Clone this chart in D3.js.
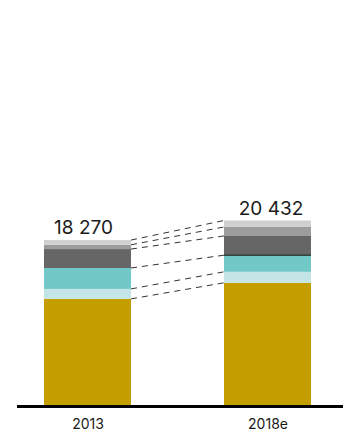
<!DOCTYPE html>
<html>
<head>
<meta charset="utf-8">
<script src="https://cdn.jsdelivr.net/npm/d3@7"></script>
<style>
  body { margin: 0; background: #fff; }
  text { font-family: Inter, Lato, sans-serif; font-weight: 400; fill: #1a1a1a; }
</style>
</head>
<body>
<script>
// values, bottom segment first
var years = ["2013", "2018e"]
var totals = [18270, 20432]
var totalLabels = ["18 270", "20 432"]
var segGold = [11776, 13552]
var segLightTeal = [1100, 1211]
var segTeal = [2311, 1838]
var segDarkGrey = [2091, 2124]
var segMidGrey = [473, 991]
var segLightGrey = [519, 716]

var colors = ["#c49e00", "#c3e5e5", "#72c8c6", "#666666", "#9c9c9c", "#d0d0d0"]

var W = 347, H = 436
var svg = d3.select("body").append("svg")
  .attr("width", W)
  .attr("height", H)

var rows = years.map(function(yr, i) {
  return {year: yr, gold: segGold[i], lteal: segLightTeal[i], teal: segTeal[i],
          dgrey: segDarkGrey[i], mgrey: segMidGrey[i], lgrey: segLightGrey[i]}
})
var keys = ["gold", "lteal", "teal", "dgrey", "mgrey", "lgrey"]
var stacked = d3.stack().keys(keys)(rows)

var x = d3.scalePoint().domain(years).range([87.5, 267.5])
var barW = 87
var y = d3.scaleLinear().domain([0, 20432]).range([405.5, 220.5])

// dashed connectors between the two bars, one per segment top
var conn = svg.append("g")
stacked.forEach(function(layer) {
  conn.append("line")
    .attr("x1", x(years[0]) + barW / 2)
    .attr("x2", x(years[1]) - barW / 2)
    .attr("y1", y(layer[0][1]))
    .attr("y2", y(layer[1][1]))
    .attr("stroke", "#333")
    .attr("stroke-width", 1)
    .attr("stroke-dasharray", "6,5")
})

// bars
svg.append("g").selectAll("g")
  .data(stacked)
  .join("g")
  .attr("fill", function(d, i) { return colors[i] })
  .selectAll("rect")
  .data(function(d) { return d })
  .join("rect")
  .attr("x", function(d) { return x(d.data.year) - barW / 2 })
  .attr("width", barW)
  .attr("y", function(d) { return y(d[1]) })
  .attr("height", function(d) { return y(d[0]) - y(d[1]) })

// thin dark edge on top of teal in 2018e bar
var tealTop = stacked[2][1][1]
svg.append("line")
  .attr("x1", x(years[1]) - barW / 2)
  .attr("x2", x(years[1]) + barW / 2)
  .attr("y1", y(tealTop))
  .attr("y2", y(tealTop))
  .attr("stroke", "#111")
  .attr("stroke-width", 1)

// total labels
svg.append("g").selectAll("text")
  .data(years)
  .join("text")
  .attr("x", function(d, i) { return x(d) + (i == 0 ? -4 : 3.5) })
  .attr("y", function(d, i) { return y(totals[i]) - 6 })
  .attr("text-anchor", "middle")
  .attr("font-size", "19px")
  .text(function(d, i) { return totalLabels[i] })

// baseline axis
var xAxis = d3.axisBottom(x).tickSize(0).tickPadding(13)
svg.append("g")
  .attr("transform", "translate(0,406.5)")
  .call(xAxis)
  .call(function(g) { g.select(".domain").remove() })
  .call(function(g) { g.selectAll("text").attr("font-size", "14px").attr("font-family", null).attr("fill", "#1a1a1a") })

svg.append("line")
  .attr("x1", 17).attr("x2", 343)
  .attr("y1", 406.5).attr("y2", 406.5)
  .attr("stroke", "#000")
  .attr("stroke-width", 3)
</script>
</body>
</html>
